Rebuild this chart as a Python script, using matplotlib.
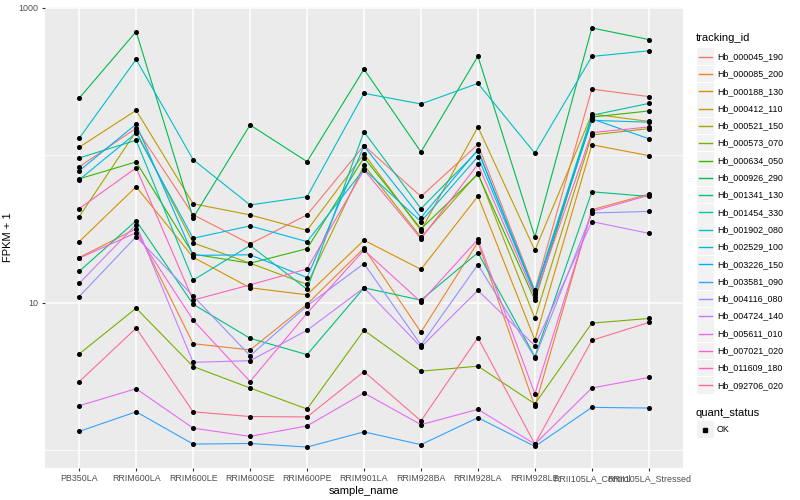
import matplotlib
matplotlib.use("Agg")
import matplotlib.pyplot as plt
from matplotlib.lines import Line2D
from matplotlib.patches import Rectangle
from matplotlib.ticker import FixedLocator, NullFormatter
import numpy as np

plt.rcParams["font.family"] = ["Liberation Sans", "DejaVu Sans"]

samples = ["PB350LA", "RRIM600LA", "RRIM600LE", "RRIM600SE", "RRIM600PE",
           "RRIM901LA", "RRIM928BA", "RRIM928LA", "RRIM928LE",
           "RRII105LA_Control", "RRII105LA_Stressed"]

tracking_ids = ["Hb_000045_190", "Hb_000085_200", "Hb_000188_130", "Hb_000412_110",
                "Hb_000521_150", "Hb_000573_070", "Hb_000634_050", "Hb_000926_290",
                "Hb_001341_130", "Hb_001454_330", "Hb_001902_080", "Hb_002529_100",
                "Hb_003226_150", "Hb_003581_090", "Hb_004116_080", "Hb_004724_140",
                "Hb_005611_010", "Hb_007021_020", "Hb_011609_180", "Hb_092706_020"]

hue_colors = ["#F8766D", "#EA8331", "#D89000", "#C09B00", "#A3A500", "#7CAE00",
              "#39B600", "#00BB4E", "#00BF7D", "#00C1A3", "#00BFC4", "#00BAE0",
              "#00B0F6", "#35A2FF", "#9590FF", "#C77CFF", "#E76BF3", "#FA62DB",
              "#FF62BC", "#FF6C91"]

# FPKM + 1 values, one list per tracking_id (order of samples)
hb_000045_190 = [83.2, 152, 39.4, 25.0, 39.3, 116, 52.4, 118, 12.1, 280, 249]
hb_000085_200 = [20.2, 31.7, 5.27, 4.78, 9.75, 23.4, 6.31, 25.7, 1.98, 42.6, 54.4]
hb_000188_130 = [25.9, 61.0, 20.3, 12.6, 11.3, 26.5, 16.8, 52.7, 5.58, 117.5, 99.1]
hb_000412_110 = [113, 201, 46.8, 39.3, 30.9, 102, 30.8, 155, 22.6, 190, 169]
hb_000521_150 = [38.2, 145, 25.4, 18.5, 13.3, 85.4, 27.7, 75.4, 7.81, 137, 151]
hb_000573_070 = [4.49, 9.17, 3.69, 2.64, 1.90, 6.49, 3.43, 3.71, 2.06, 7.26, 7.81]
hb_000634_050 = [69.0, 89.9, 21.3, 18.5, 23.2, 96.1, 31.6, 74.2, 10.4, 181, 199]
hb_000926_290 = [243, 687, 37.5, 160, 90.3, 382, 105, 468, 27.8, 727, 607]
hb_001341_130 = [16.3, 35.9, 9.75, 5.73, 4.44, 12.6, 10.4, 21.8, 4.30, 56.4, 52.4]
hb_001454_330 = [95.6, 126, 14.2, 24.4, 12.3, 144, 43.3, 107, 11.8, 186, 224]
hb_001902_080 = [130, 445, 93.1, 45.9, 52.2, 262, 222, 306, 103, 466, 509]
hb_002529_100 = [68.0, 141, 27.3, 33.1, 25.9, 80.2, 35.4, 97.6, 11.6, 172, 167]
hb_003226_150 = [78.2, 162, 20.9, 21.1, 14.8, 115, 37.7, 109, 11.5, 176, 129]
hb_003581_090 = [1.34, 1.82, 1.10, 1.11, 1.05, 1.33, 1.09, 1.66, 1.06, 1.95, 1.93]
hb_004116_080 = [11.0, 28.0, 11.1, 4.37, 9.50, 18.4, 5.16, 18.1, 4.24, 40.5, 41.5]
hb_004724_140 = [13.5, 33.8, 3.94, 4.04, 6.49, 12.6, 5.0, 12.1, 5.11, 35.4, 29.5]
hb_005611_010 = [2.00, 2.61, 1.41, 1.24, 1.46, 2.44, 1.49, 1.89, 1.10, 2.64, 3.11]
hb_007021_020 = [20.0, 29.8, 7.61, 2.92, 8.48, 22.7, 10.1, 26.8, 2.41, 41.5, 53.4]
hb_011609_180 = [43.3, 81.9, 10.4, 13.2, 16.9, 79.4, 27.1, 86.7, 11.0, 142, 155]
hb_092706_020 = [2.91, 6.72, 1.82, 1.69, 1.68, 3.41, 1.58, 5.78, 1.10, 5.55, 7.34]

series = [hb_000045_190, hb_000085_200, hb_000188_130, hb_000412_110, hb_000521_150,
          hb_000573_070, hb_000634_050, hb_000926_290, hb_001341_130, hb_001454_330,
          hb_001902_080, hb_002529_100, hb_003226_150, hb_003581_090, hb_004116_080,
          hb_004724_140, hb_005611_010, hb_007021_020, hb_011609_180, hb_092706_020]

W, H = 800, 500
fig = plt.figure(figsize=(W / 100, H / 100), dpi=100)
fig.patch.set_facecolor("white")
L, R, T, B = 45, 683, 7, 468
ax = fig.add_axes([L / W, 1 - B / H, (R - L) / W, (B - T) / H])
ax.set_facecolor("#EBEBEB")
for s in ax.spines.values():
    s.set_visible(False)

x = np.arange(len(samples))
for vals, col in zip(series, hue_colors):
    ax.plot(x, vals, color=col, lw=0.8, solid_capstyle="butt", zorder=3)
for vals in series:
    ax.plot(x, vals, ls="none", marker="o", ms=2.6, color="black", zorder=4)

ax.set_yscale("log")
allv = np.log10(np.concatenate([np.array(v) for v in series]))
lo, hi = allv.min(), allv.max()
pad = (hi - lo) * 0.05
ax.set_ylim(10 ** (lo - pad), 10 ** (hi + pad))
ax.set_xlim(-0.6, len(samples) - 1 + 0.6)

ax.yaxis.set_major_locator(FixedLocator([10, 1000]))
ax.set_yticklabels(["10", "1000"])
ax.yaxis.set_minor_locator(FixedLocator([1, 100]))
ax.yaxis.set_minor_formatter(NullFormatter())
ax.set_xticks(x)
ax.set_xticklabels(samples)

ax.grid(which="major", color="white", lw=1.1, zorder=1)
ax.grid(which="minor", axis="y", color="white", lw=0.55, zorder=1)
ax.set_axisbelow(True)
ax.tick_params(axis="both", which="major", length=2.5, width=0.8, color="#333333",
               labelsize=6.4, labelcolor="#4D4D4D", pad=2)
ax.tick_params(axis="y", which="minor", length=0)

ax.set_xlabel("sample_name", fontsize=8, color="black", labelpad=2)
ax.set_ylabel("FPKM + 1", fontsize=8, color="black", labelpad=4)

# Legend (drawn in figure pixel coordinates)
def fx(px):
    return px / W

def fy(py):
    return 1 - py / H

fig.text(fx(696), fy(38), "tracking_id", fontsize=8, va="center", ha="left")
y0, dy = 56.7, 17.3
for i, (name, col) in enumerate(zip(tracking_ids, hue_colors)):
    yc = y0 + i * dy
    fig.add_artist(Rectangle((fx(697), fy(yc + 8.3)), 16.6 / W, 16.6 / H,
                             transform=fig.transFigure, facecolor="#F2F2F2",
                             edgecolor="none"))
    fig.add_artist(Line2D([fx(698.5), fx(711.5)], [fy(yc), fy(yc)],
                          transform=fig.transFigure, color=col, lw=1.0))
    fig.text(fx(717), fy(yc), name, fontsize=6.4, va="center", ha="left")

fig.text(fx(696), fy(413), "quant_status", fontsize=8, va="center", ha="left")
yq = 429.5
fig.add_artist(Rectangle((fx(697), fy(yq + 8.3)), 16.6 / W, 16.6 / H,
                         transform=fig.transFigure, facecolor="#F2F2F2",
                         edgecolor="none"))
fig.add_artist(Line2D([fx(705)], [fy(yq)], transform=fig.transFigure,
                      marker="s", ms=2.4, color="black", ls="none"))
fig.text(fx(717), fy(yq), "OK", fontsize=6.4, va="center", ha="left")

fig.savefig("out.png", dpi=100)
